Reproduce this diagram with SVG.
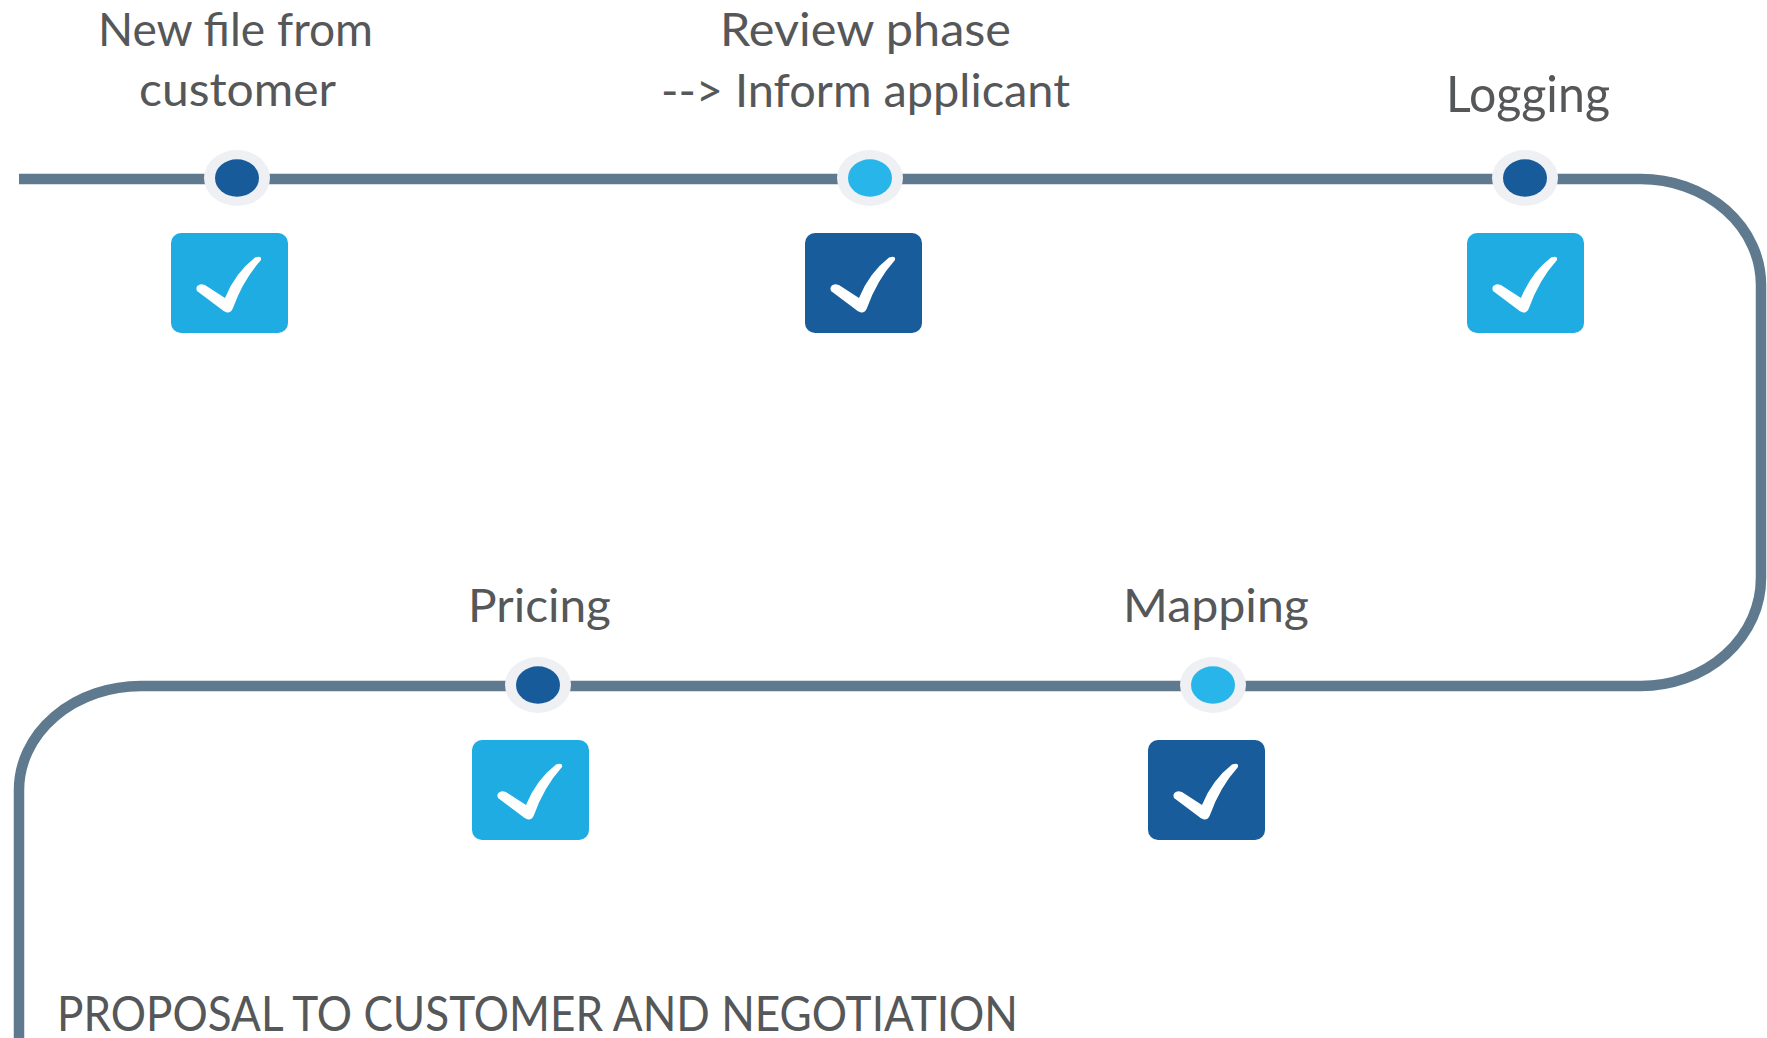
<svg xmlns="http://www.w3.org/2000/svg" xmlns:xlink="http://www.w3.org/1999/xlink" width="1767" height="1038" viewBox="0 0 1767 1038">
<style>
.track{fill:none;stroke:#5F7A8E;stroke-width:10.5;stroke-linecap:butt}
.halo{fill:#EEF0F3}
.dk{fill:#185B9B}
.lt{fill:#28B6EA}
.boxL{fill:#1FACE2}
.boxD{fill:#185C9C}
.chk{fill:#FFFFFF}
.lbl{font-family:"Lato","Liberation Sans",sans-serif;font-weight:400;font-size:46px;fill:#555759}
</style>
<defs>
<path id="check" d="M 26,58 Q 24,53 29,51.5 Q 33,50.5 37,54 L 54,65 Q 64,40 84,24.5 Q 91,22 90,27 Q 72,47 62,75 Q 60,80 56,79.5 Q 53,79 50,76 Z"/>
</defs>
<rect x="0" y="0" width="1767" height="1038" fill="#FFFFFF"/>
<g id="connectors">
<path class="track" d="M 19,179 L 1641,179 A 120,106 0 0 1 1761,285 L 1761,578 A 120,108 0 0 1 1641,686 L 141,686 A 122,104 0 0 0 19,790 L 19,1038"/>
</g>
<g id="node-new-file">
<ellipse class="halo" cx="237" cy="178" rx="33" ry="28"/>
<ellipse class="dk" cx="237" cy="178" rx="22" ry="18.7"/>
<rect class="boxL" x="171" y="233" width="117" height="100" rx="10"/>
<use xlink:href="#check" class="chk" transform="translate(171,233)"/>
<text class="lbl" x="98" y="46" textLength="275" lengthAdjust="spacingAndGlyphs">New file from</text>
<text class="lbl" x="139" y="106" textLength="197" lengthAdjust="spacingAndGlyphs">customer</text>
</g>
<g id="node-review">
<ellipse class="halo" cx="870" cy="178" rx="33" ry="28"/>
<ellipse class="lt" cx="870" cy="178" rx="22" ry="18.7"/>
<rect class="boxD" x="805" y="233" width="117" height="100" rx="10"/>
<use xlink:href="#check" class="chk" transform="translate(805,233)"/>
<text class="lbl" x="720" y="46" textLength="291" lengthAdjust="spacingAndGlyphs">Review phase</text>
<text class="lbl" x="661" y="107" textLength="409" lengthAdjust="spacingAndGlyphs">--&gt; Inform applicant</text>
</g>
<g id="node-logging">
<ellipse class="halo" cx="1525" cy="178" rx="33" ry="28"/>
<ellipse class="dk" cx="1525" cy="178" rx="22" ry="18.7"/>
<rect class="boxL" x="1467" y="233" width="117" height="100" rx="10"/>
<use xlink:href="#check" class="chk" transform="translate(1467,233)"/>
<text class="lbl" x="1446" y="112" style="font-size:50px" textLength="164" lengthAdjust="spacingAndGlyphs">Logging</text>
</g>
<g id="node-mapping">
<ellipse class="halo" cx="1213" cy="685" rx="33" ry="28"/>
<ellipse class="lt" cx="1213" cy="685" rx="22" ry="18.7"/>
<rect class="boxD" x="1148" y="740" width="117" height="100" rx="10"/>
<use xlink:href="#check" class="chk" transform="translate(1148,740)"/>
<text class="lbl" x="1123" y="622" textLength="186" lengthAdjust="spacingAndGlyphs">Mapping</text>
</g>
<g id="node-pricing">
<ellipse class="halo" cx="538" cy="685" rx="33" ry="28"/>
<ellipse class="dk" cx="538" cy="685" rx="22" ry="18.7"/>
<rect class="boxL" x="472" y="740" width="117" height="100" rx="10"/>
<use xlink:href="#check" class="chk" transform="translate(472,740)"/>
<text class="lbl" x="468" y="622" textLength="143" lengthAdjust="spacingAndGlyphs">Pricing</text>
</g>
<g id="node-proposal">
<text class="lbl" x="57" y="1031" style="font-size:48px" textLength="961" lengthAdjust="spacingAndGlyphs">PROPOSAL TO CUSTOMER AND NEGOTIATION</text>
</g>
</svg>
